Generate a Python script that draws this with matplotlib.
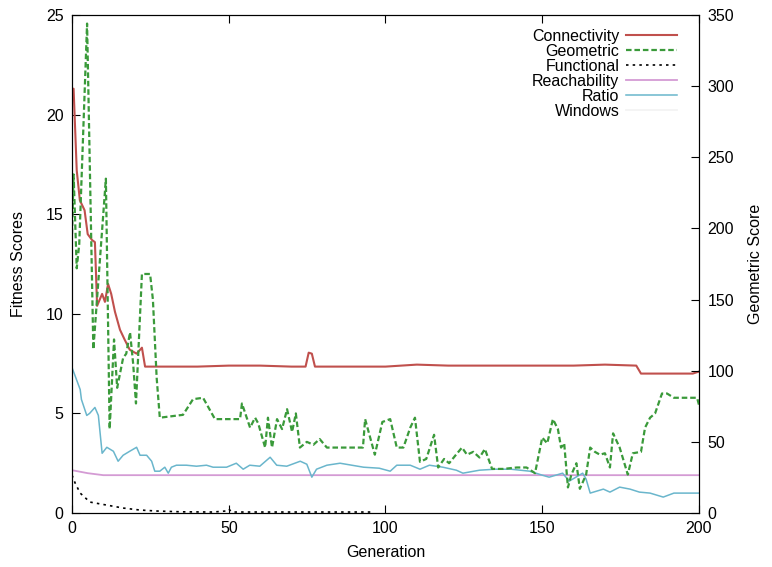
import numpy as np
import matplotlib.pyplot as plt

plt.rcParams['font.family'] = ['Liberation Sans', 'DejaVu Sans']
plt.rcParams['font.size'] = 11.5

# Connectivity (left axis)
conn_gen = [0, 0.5, 1.5, 2.5, 4, 5, 6.4, 7.3, 8, 9.6, 10.5, 11.5, 12.5, 13.7, 15.3, 16.8,
            18.4, 20.6, 22.3, 23.3, 30, 40, 50, 60, 70, 74.5, 75.5, 76.5, 77.5, 85, 100,
            110, 120, 140, 160, 170, 180, 181.5, 190, 198, 200]
conn_val = [21.3, 21.3, 17.2, 15.7, 15.2, 14.0, 13.7, 13.6, 10.4, 11.0, 10.6, 11.5, 11.0,
            10.1, 9.2, 8.7, 8.2, 8.0, 8.3, 7.35, 7.35, 7.35, 7.4, 7.4, 7.35, 7.35, 8.05,
            8.0, 7.35, 7.35, 7.35, 7.45, 7.4, 7.4, 7.4, 7.45, 7.4, 7.0, 7.0, 7.0, 7.1]

# Geometric (right axis, score units)
geo_gen = [0, 0.5, 1.5, 2.3, 4.8, 6.8, 10.8, 12, 13.4, 14.4, 16.3, 17.3, 18.5, 19.5, 20.4,
           22.3, 24.9, 25.8, 27, 28, 35.4, 38.6, 41.8, 45.6, 53.6, 54.2, 56.8, 58.4, 59.4,
           61.6, 62.5, 63.8, 65.4, 67, 68.6, 70.2, 71.4, 72.7, 74.9, 77, 79, 81.3, 92.8,
           93.5, 96.6, 99, 101.5, 103.6, 105.7, 107.9, 109.4, 111, 113, 115.5, 116.8,
           118.7, 120.3, 122.5, 124.4, 126, 128, 130, 131.7, 134, 137.6, 141.9, 145,
           147.7, 150, 151.6, 153.4, 155, 156, 157, 158.2, 159.3, 160.9, 162, 164, 165.3,
           166.8, 168.4, 170, 171.6, 172.6, 174.7, 177.3, 178.9, 181.5, 182.8, 184.4, 186,
           188.2, 189.8, 192, 199.4, 200]
geo_val = [196, 238, 172, 189, 344, 115, 235, 59, 122, 88, 109, 112, 127, 105, 77,
           168, 168, 150, 95, 67, 69, 80, 81, 66, 66, 77, 60, 67, 63,
           46, 67, 46, 66, 59, 73, 57, 70, 46, 50, 48, 52, 46, 46,
           66, 41, 64, 66, 46, 46, 60, 67, 36, 38, 55, 32,
           38, 35, 41, 46, 41, 43, 39, 45, 31, 31, 32, 32,
           28, 53, 49, 66, 59, 46, 49, 18, 27, 35, 17, 27, 46,
           43, 41, 42, 32, 56, 46, 27, 42, 43, 60, 67, 70,
           84, 84, 81, 81, 76]

# Functional (left axis)
func_gen = [0, 1, 2.6, 5.7, 11, 16.3, 21.6, 27, 35, 45, 49, 50, 51, 60, 75, 96]
func_val = [1.9, 1.5, 1.0, 0.55, 0.4, 0.25, 0.15, 0.1, 0.06, 0.05, 0.1, 0.2, 0.05, 0.05,
            0.05, 0.05]

# Reachability (left axis)
reach_gen = [0, 5, 10, 50, 100, 150, 200]
reach_val = [2.15, 2.0, 1.9, 1.9, 1.9, 1.9, 1.9]

# Ratio (left axis)
ratio_gen = [0, 2.6, 3, 4.7, 5.6, 7.3, 8.4, 9.6, 11.1, 13.2, 14.7, 16.3, 18.4, 20.6, 21.7,
             23.8, 25.4, 26.4, 28, 29.6, 30.7, 31.7, 33.3, 36.5, 39.7, 42.9, 45, 49.3,
             52.4, 54.6, 56.7, 59.9, 63.2, 65.3, 68.5, 72.8, 74.9, 76.5, 78, 81.3, 85.5,
             93, 98, 101.5, 103.6, 107.9, 111, 114, 118.3, 122.6, 124.7, 130, 135, 140,
             146, 150, 152.2, 156.5, 158.6, 162.9, 164, 165.3, 169.5, 171.6, 174.7, 178,
             181, 184.4, 188.6, 192, 200]
ratio_val = [7.3, 6.2, 5.7, 4.9, 5.0, 5.3, 4.9, 3.0, 3.3, 3.1, 2.6, 2.9, 3.1, 3.3, 2.9,
             2.9, 2.6, 2.1, 2.1, 2.3, 2.0, 2.3, 2.4, 2.4, 2.35, 2.4, 2.3, 2.3,
             2.5, 2.2, 2.4, 2.35, 2.8, 2.4, 2.35, 2.6, 2.45, 1.8, 2.2, 2.4, 2.5,
             2.3, 2.25, 2.1, 2.4, 2.4, 2.2, 2.4, 2.3, 2.15, 2.0, 2.15, 2.2, 2.2,
             2.1, 1.9, 1.8, 2.0, 1.6, 2.0, 1.7, 1.0, 1.2, 1.05, 1.3, 1.2,
             1.05, 1.0, 0.8, 1.0, 1.0]

fig = plt.figure(figsize=(7.72, 5.67), dpi=100)
ax = fig.add_axes([0.0933, 0.0952, 0.8121, 0.8783])
ax2 = ax.twinx()

l_conn, = ax.plot(conn_gen, conn_val, color='#c0504d', lw=1.5, label='Connectivity')
l_geo, = ax2.plot(geo_gen, geo_val, color='#3a9a3a', lw=1.6, ls=(0, (2.5, 1.3)),
                  label='Geometric')
l_func, = ax.plot(func_gen, func_val, color='black', lw=1.2, ls=(0, (1.5, 2.5)),
                  label='Functional')
l_reach, = ax.plot(reach_gen, reach_val, color='#d49bd4', lw=1.3, label='Reachability')
l_ratio, = ax.plot(ratio_gen, ratio_val, color='#6ab6cc', lw=1.1, label='Ratio')
l_win, = ax.plot([], [], color='#f2f2f2', lw=1.2, label='Windows')

ax.set_xlim(0, 200)
ax.set_ylim(0, 25)
ax2.set_ylim(0, 350)
ax.set_xticks(np.arange(0, 201, 50))
ax.set_yticks(np.arange(0, 26, 5))
ax2.set_yticks(np.arange(0, 351, 50))
ax.tick_params(axis='x', direction='in', top=True, length=6, pad=6)
ax.tick_params(axis='y', direction='in', length=6, pad=6)
ax2.tick_params(axis='y', direction='in', length=6, pad=6)

ax.set_xlabel('Generation', labelpad=6)
ax.set_ylabel('Fitness Scores', labelpad=14)
ax2.set_ylabel('Geometric Score', labelpad=10)

ax.legend(handles=[l_conn, l_geo, l_func, l_reach, l_ratio, l_win],
          loc='upper right', bbox_to_anchor=(0.975, 0.985), frameon=False,
          markerfirst=False, handlelength=3.2, labelspacing=0.0, handletextpad=0.4,
          borderaxespad=0)

fig.savefig('out.png', dpi=100)
